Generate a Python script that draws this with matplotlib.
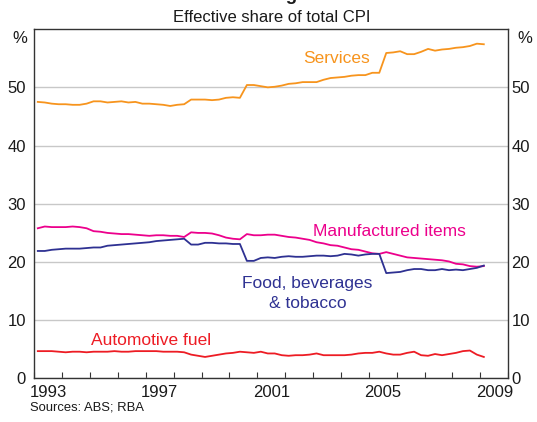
import numpy as np
import matplotlib
matplotlib.use('Agg')
import matplotlib.pyplot as plt

plt.rcParams['font.family'] = ['Liberation Sans', 'DejaVu Sans']

# quarterly, March 1993 to March 2009 (mid-quarter positions)
quarters = 1993.125 + 0.25 * np.arange(65)

services = [47.5, 47.4, 47.2, 47.1, 47.1, 47.0, 47.0, 47.2, 47.6, 47.6,
            47.4, 47.5, 47.6, 47.4, 47.5, 47.2, 47.2, 47.1, 47.0, 46.8,
            47.0, 47.1, 47.9, 47.9, 47.9, 47.8, 47.9, 48.2, 48.3, 48.2,
            50.4, 50.4, 50.2, 50.0, 50.1, 50.3, 50.6, 50.7, 50.9, 50.9,
            50.9, 51.3, 51.6, 51.7, 51.8, 52.0, 52.1, 52.1, 52.5, 52.5,
            55.9, 56.0, 56.2, 55.7, 55.7, 56.1, 56.6, 56.3, 56.5, 56.6,
            56.8, 56.9, 57.1, 57.5, 57.4]

manufactured = [25.8, 26.1, 26.0, 26.0, 26.0, 26.1, 26.0, 25.8, 25.3, 25.2,
                25.0, 24.9, 24.8, 24.8, 24.7, 24.6, 24.5, 24.6, 24.6, 24.5,
                24.5, 24.3, 25.1, 25.0, 25.0, 24.9, 24.6, 24.2, 24.0, 23.9,
                24.8, 24.6, 24.6, 24.7, 24.7, 24.5, 24.3, 24.2, 24.0, 23.8,
                23.4, 23.2, 22.9, 22.8, 22.5, 22.2, 22.1, 21.8, 21.5, 21.4,
                21.7, 21.4, 21.1, 20.8, 20.7, 20.6, 20.5, 20.4, 20.3, 20.1,
                19.7, 19.6, 19.3, 19.2, 19.3]

food = [21.9, 21.9, 22.1, 22.2, 22.3, 22.3, 22.3, 22.4, 22.5, 22.5,
        22.8, 22.9, 23.0, 23.1, 23.2, 23.3, 23.4, 23.6, 23.7, 23.8,
        23.9, 24.0, 23.0, 23.0, 23.3, 23.3, 23.2, 23.2, 23.1, 23.1,
        20.2, 20.2, 20.7, 20.8, 20.7, 20.9, 21.0, 20.9, 20.9, 21.0,
        21.1, 21.1, 21.0, 21.1, 21.4, 21.3, 21.1, 21.3, 21.4, 21.4,
        18.1, 18.2, 18.3, 18.6, 18.8, 18.8, 18.6, 18.6, 18.8, 18.6,
        18.7, 18.6, 18.8, 19.0, 19.4]

fuel = [4.7, 4.7, 4.7, 4.6, 4.5, 4.6, 4.6, 4.5, 4.6, 4.6,
        4.6, 4.7, 4.6, 4.6, 4.7, 4.7, 4.7, 4.7, 4.6, 4.6,
        4.6, 4.5, 4.1, 3.9, 3.7, 3.9, 4.1, 4.3, 4.4, 4.6,
        4.5, 4.4, 4.6, 4.3, 4.3, 4.0, 3.9, 4.0, 4.0, 4.1,
        4.3, 4.0, 4.0, 4.0, 4.0, 4.1, 4.3, 4.4, 4.4, 4.6,
        4.3, 4.1, 4.1, 4.4, 4.6, 4.0, 3.9, 4.2, 4.0, 4.2,
        4.4, 4.7, 4.8, 4.1, 3.7]

year_labels = ['1993', '1997', '2001', '2005', '2009']
yticks = [0, 10, 20, 30, 40, 50]

c_serv = '#F7941D'
c_manu = '#EC008C'
c_food = '#2E3192'
c_fuel = '#ED1C24'
c_text = '#1a1a1a'
c_axis = '#333333'

fig = plt.figure(figsize=(5.37, 4.22), dpi=100)
ax = fig.add_axes([0.0639, 0.1031, 0.8825, 0.8279])

lw = 1.3
ax.plot(quarters, services, color=c_serv, lw=lw)
ax.plot(quarters, manufactured, color=c_manu, lw=lw)
ax.plot(quarters, food, color=c_food, lw=lw)
ax.plot(quarters, fuel, color=c_fuel, lw=lw)

ax.set_xlim(1993, 2010)
ax.set_ylim(0, 60)
ax.set_yticks(yticks)
ax.yaxis.grid(True, color='#c8c8c8', lw=1)
ax.set_axisbelow(True)
ax.tick_params(axis='y', length=0, labelsize=12, pad=6.1, labelcolor=c_text)

ax.set_xticks([int(y) + 0.5 for y in year_labels])
ax.set_xticklabels(year_labels)
ax.tick_params(axis='x', which='major', length=0, labelsize=12, pad=4.6, labelcolor=c_text)
ax.set_xticks(np.arange(1993, 2011), minor=True)
ax.tick_params(axis='x', which='minor', direction='in', length=4, width=0.8, color=c_axis)

for s in ax.spines.values():
    s.set_color(c_axis)
    s.set_linewidth(1.0)

ax2 = ax.twinx()
ax2.set_ylim(0, 60)
ax2.set_yticks(yticks)
ax2.tick_params(axis='y', length=0, labelsize=12, pad=2.4, labelcolor=c_text)
for s in ax2.spines.values():
    s.set_visible(False)

# series labels
ax.text(2003.85, 54.2, 'Services', color=c_serv, fontsize=12.5, ha='center', va='baseline')
ax.text(2005.75, 24.5, 'Manufactured items', color=c_manu, fontsize=12.5, ha='center', va='baseline')
ax.text(2002.8, 15.5, 'Food, beverages', color=c_food, fontsize=12.5, ha='center', va='baseline')
ax.text(2002.8, 12.1, '& tobacco', color=c_food, fontsize=12.5, ha='center', va='baseline')
ax.text(1997.2, 5.75, 'Automotive fuel', color=c_fuel, fontsize=12.5, ha='center', va='baseline')

fig.text(26.8 / 537, 1 - 38.6 / 422, '%', fontsize=12, color=c_text, ha='right', va='center')
fig.text(517.7 / 537, 1 - 38.6 / 422, '%', fontsize=12, color=c_text, ha='left', va='center')

# title sits mostly above the top edge, as in the reference
fig.text(271.3 / 537, 1.0, 'CPI Weights', fontsize=13.4, weight='bold', color=c_text,
         ha='center', va='baseline')
fig.text(271.3 / 537, 1 - 22.3 / 422, 'Effective share of total CPI', fontsize=12,
         color=c_text, ha='center', va='baseline')
fig.text(30.2 / 537, 1 - 411 / 422, 'Sources: ABS; RBA', fontsize=9.4, color=c_text,
         ha='left', va='baseline')

fig.savefig('out.png', dpi=100)
